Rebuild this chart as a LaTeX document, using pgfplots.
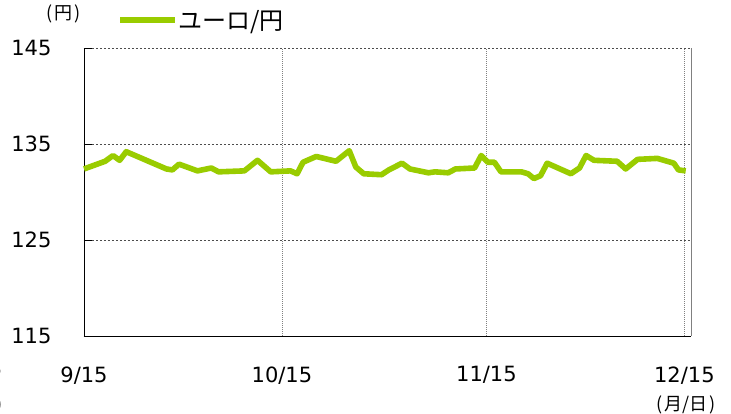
\documentclass[border=0pt]{standalone}
\usepackage{fontspec}
\setmainfont{DejaVu Sans}
\newfontfamily\jp{Noto Sans CJK JP}
\usepackage{pgfplots}
\pgfplotsset{compat=1.18}
\definecolor{eurgreen}{HTML}{99CC00}
\begin{document}
\begin{tikzpicture}[x=1pt,y=1pt]
\useasboundingbox (-84,-78) rectangle (647,336);
\begin{axis}[
  at={(0,0)}, anchor=south west,
  scale only axis, width=607pt, height=288pt,
  xmin=0, xmax=92, ymin=115, ymax=145,
  xtick={0,30,61,91}, xticklabels={9/15,10/15,11/15,12/15},
  ytick={115,125,135,145},
  /pgf/number format/assume math mode=true,
  ticklabel style={font=\fontsize{21}{25}\selectfont},
  yticklabel style={anchor=east, xshift=-29pt},
  xticklabel style={anchor=north, yshift=-27pt},
  axis x line*=bottom, axis y line*=left,
  axis line style={black, line width=0.8pt, -},
  tick align=inside,
  xtick style={draw=none},
  ytick style={black, line width=0.8pt},
  major tick length=8pt,
  grid=major,
  x grid style={gray, line width=0.6pt, dash pattern=on 1pt off 1pt},
  y grid style={black!70, line width=0.6pt, dash pattern=on 2pt off 2pt},
  clip=false,
]
\addplot[eurgreen, line width=5.6pt, line join=round] coordinates {
(0,132.4) (3.2,133.2) (4.4,133.8) (5.4,133.3) (6.4,134.2)
(12.5,132.4) (13.4,132.3) (14.4,132.9) (17.2,132.2) (19.3,132.5)
(20.4,132.1) (24.3,132.2) (26.3,133.3) (28.3,132.1) (31.3,132.2)
(32.3,131.9) (33.2,133.1) (35.2,133.7) (38.2,133.2) (40.2,134.3)
(41.2,132.6) (42.4,131.9) (45.1,131.8) (46.2,132.3) (48.2,133.0)
(49.4,132.4) (52.2,132.0) (53.2,132.1) (55.2,132.0) (56.3,132.4)
(59.2,132.5) (60.2,133.8) (61.2,133.1) (62.2,133.1) (63.2,132.1)
(66.3,132.1) (67.3,131.9) (68.2,131.4) (69.2,131.7) (70.2,133.0)
(73.8,131.9) (75.1,132.5) (76.1,133.8) (77.3,133.3) (80.8,133.2)
(82.1,132.4) (83.9,133.4) (86.9,133.5) (89.4,133.0) (90.1,132.3)
(91.2,132.2)
};
\draw[gray, line width=0.8pt] (rel axis cs:1,0) -- (rel axis cs:1,1);
\end{axis}
\node[inner sep=0pt, font=\jp\fontsize{18}{22}\selectfont] at (-20,322) {(\kern2pt 円\kern2pt)};
\draw[eurgreen, line width=5.6pt] (36,316) -- (91,316);
\node[anchor=west, inner sep=0pt, font=\jp\fontsize{24}{28}\selectfont] at (94,314) {ユーロ/円};
\node[inner sep=0pt, font=\jp\fontsize{18}{22}\selectfont] at (602,-69) {(\kern2pt 月/日\kern2pt)};
\node[font=\fontsize{21}{25}\selectfont] at (-112,-34) {12/15};
\node[inner sep=0pt, font=\jp\fontsize{18}{22}\selectfont] at (-111,-69) {(\kern2pt 月/日\kern2pt)};
\end{tikzpicture}
\end{document}
